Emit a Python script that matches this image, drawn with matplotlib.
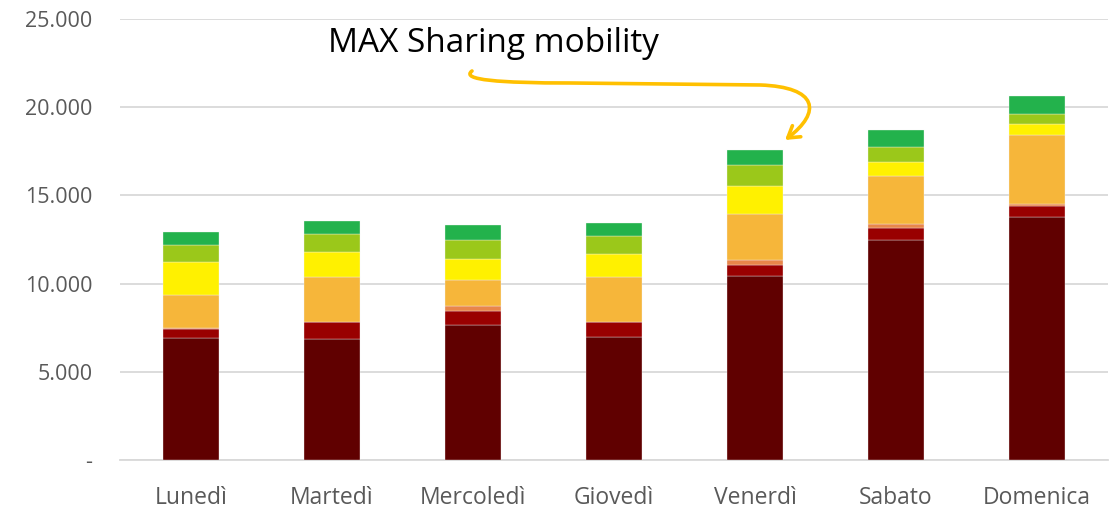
import matplotlib
matplotlib.use("Agg")
import matplotlib.pyplot as plt
from matplotlib.path import Path
from matplotlib.patches import FancyArrowPatch
from matplotlib.ticker import FuncFormatter
import numpy as np

giorni = ['Lunedì', 'Martedì', 'Mercoledì', 'Giovedì', 'Venerdì', 'Sabato', 'Domenica']

# segmenti impilati dal basso verso l'alto
s1 = [6900, 6844, 7637, 6957, 10416, 12457, 13761]
s2 = [530, 964, 811, 851, 658, 714, 658]
s3 = [50, 40, 267, 30, 266, 193, 96]
s4 = [1895, 2528, 1474, 2555, 2591, 2756, 3895]
s5 = [1870, 1400, 1208, 1304, 1622, 760, 658]
s6 = [946, 1037, 1094, 1021, 1191, 867, 550]
s7 = [755, 737, 834, 703, 850, 947, 1004]

serie = [s1, s2, s3, s4, s5, s6, s7]
colori = ['#600000', '#990000', '#E8864A', '#F6B63A', '#FFF100', '#9BC81A', '#23B24C']

plt.rcParams['font.family'] = ['Open Sans', 'DejaVu Sans']

fig = plt.figure(figsize=(11.17, 5.09), dpi=100)
ax = fig.add_axes([0.1076, 0.0963, 0.8841, 0.8664])

x = np.arange(len(giorni))
base = np.zeros(len(giorni))
for vals, col in zip(serie, colori):
    ax.bar(x, vals, bottom=base, width=0.40, color=col, edgecolor='#F4F4F4',
           linewidth=0.25, zorder=3)
    base += np.array(vals)

ax.set_xlim(-0.5, 6.5)
ax.set_ylim(0, 25000)
ax.set_yticks(range(0, 25001, 5000))
ax.yaxis.set_major_formatter(FuncFormatter(
    lambda v, p: '-' if v == 0 else f'{int(v):,}'.replace(',', '.')))
ax.set_xticks(x)
ax.set_xticklabels(giorni)

ax.grid(axis='y', color='#D9D9D9', linewidth=1.3, zorder=0)
for s in ['top', 'right', 'left']:
    ax.spines[s].set_visible(False)
ax.spines['bottom'].set_color('#D9D9D9')
ax.spines['bottom'].set_linewidth(1.3)
ax.tick_params(axis='both', length=0, colors='#595959')
ax.tick_params(axis='y', pad=20, labelsize=15.5)
ax.tick_params(axis='x', pad=19, labelsize=16.5)

# annotazione
ax.text(0.210, 0.945, 'MAX Sharing mobility', transform=ax.transAxes,
        fontsize=24, color='black', va='center', ha='left')


def fr(px, py):
    return ((px - 120.2) / 987.5, (460 - py) / 441)


verts = [fr(472, 71), fr(460, 80), fr(500, 83), fr(570, 83),
         fr(760, 85),
         fr(818, 87), fr(822, 112), fr(785, 140)]
codes = [Path.MOVETO, Path.CURVE4, Path.CURVE4, Path.CURVE4,
         Path.LINETO,
         Path.CURVE4, Path.CURVE4, Path.CURVE4]
arrow = FancyArrowPatch(path=Path(verts, codes), transform=ax.transAxes,
                        arrowstyle='->,head_length=8,head_width=5',
                        color='#FFC000', linewidth=2.6, zorder=5,
                        clip_on=False)
ax.add_patch(arrow)

fig.savefig('out.png', dpi=100)
